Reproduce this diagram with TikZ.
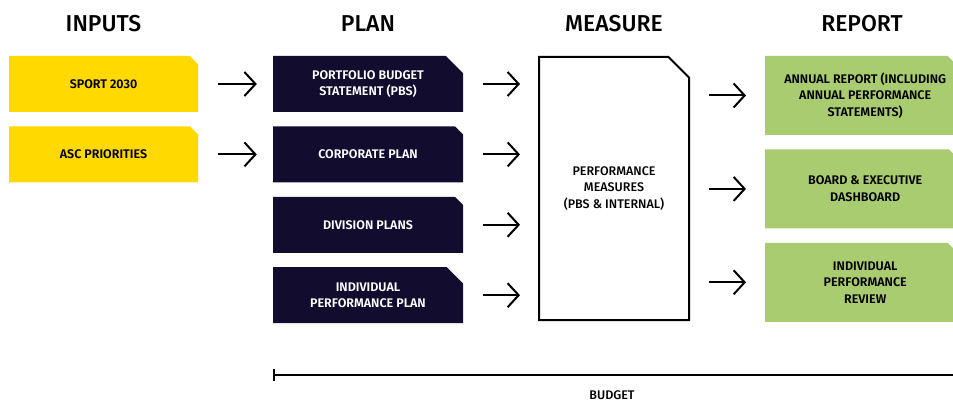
\documentclass[tikz,border=0pt]{standalone}
\usepackage{fontspec}
\setmainfont{Fira Sans}
\newfontfamily\medfont{Fira Sans Medium}
\newfontfamily\semifont{Fira Sans SemiBold}
\usetikzlibrary{shapes.misc,arrows.meta,positioning,calc}

\definecolor{ascyellow}{HTML}{FFD900}
\definecolor{ascnavy}{HTML}{120D2F}
\definecolor{ascgreen}{HTML}{A9CC70}

\begin{document}
\begin{tikzpicture}[x=1pt,y=-1pt,
  cutbox/.style={chamfered rectangle, chamfered rectangle corners=north east,
    chamfered rectangle xsep=16pt, inner sep=0pt, align=center,
    font=\fontsize{12.5}{16.5}\selectfont\semifont},
  inbox/.style={cutbox, fill=ascyellow, minimum width=189pt, minimum height=56pt},
  planbox/.style={cutbox, fill=ascnavy, text=white, minimum width=190pt, minimum height=56pt},
  repbox/.style={cutbox, fill=ascgreen, chamfered rectangle xsep=14pt, minimum width=200pt, minimum height=79pt},
  head/.style={font=\fontsize{23}{26}\selectfont\medfont},
  flow/.style={-{Straight Barb[length=11pt,width=24pt]}, line width=2pt},
]
\useasboundingbox (0,0) rectangle (953,401);

\coordinate (headline) at (0,24);

% inputs
\node[inbox] (sport) at (103.5,84) {SPORT 2030};
\node[inbox, below=14pt of sport] (asc) {ASC PRIORITIES};

% plan
\node[planbox] (pbs) at (368,84) {PORTFOLIO BUDGET\\STATEMENT (PBS)};
\node[planbox, below=14pt of pbs] (corp) {CORPORATE PLAN};
\node[planbox, below=14pt of corp] (div) {DIVISION PLANS};
\node[planbox, below=14pt of div] (indiv) {INDIVIDUAL\\PERFORMANCE PLAN};

% measure
\node[cutbox, draw, line width=2pt, chamfered rectangle xsep=17pt,
  font=\fontsize{12.5}{16.5}\selectfont\medfont, minimum width=150pt, minimum height=263pt]
  (measure) at (614,188.5) {PERFORMANCE\\MEASURES\\(PBS \& INTERNAL)};

% report
\node[repbox, anchor=west] (ar) at (765,95.5) {ANNUAL REPORT (INCLUDING\\ANNUAL PERFORMANCE\\STATEMENTS)};
\node[repbox, below=14pt of ar] (board) {BOARD \& EXECUTIVE\\DASHBOARD};
\node[repbox, below=14pt of board] (review) {INDIVIDUAL\\PERFORMANCE\\REVIEW};

\node[head] (hinputs) at (sport |- headline) {INPUTS};
\node[head] (hplan) at (pbs |- headline) {PLAN};
\node[head] (hmeasure) at (measure |- headline) {MEASURE};
\node[head] (hreport) at (862,24) {REPORT};

\draw[flow,shorten <=20pt,shorten >=16pt] (sport.east)--(pbs.west);
\draw[flow,shorten <=20pt,shorten >=16pt] (asc.east)--(corp.west);

\foreach \p in {pbs,corp,div,indiv}
  \draw[flow,shorten <=20pt,shorten >=18pt] (\p.east)--(\p.east -| measure.west);

\foreach \r in {ar,board,review}
  \draw[flow,shorten <=19pt,shorten >=19pt] (measure.east |- \r.west)--(\r.west);

\coordinate (bstart) at (indiv.west |- 0,375);
\coordinate (bend) at (953,375);
\draw[{Bar[width=12pt]}-, line width=2pt] (bstart)--(bend);
\node[font=\fontsize{12.5}{14}\selectfont\medfont] (budget) at (612,395) {BUDGET};
\end{tikzpicture}
\end{document}
